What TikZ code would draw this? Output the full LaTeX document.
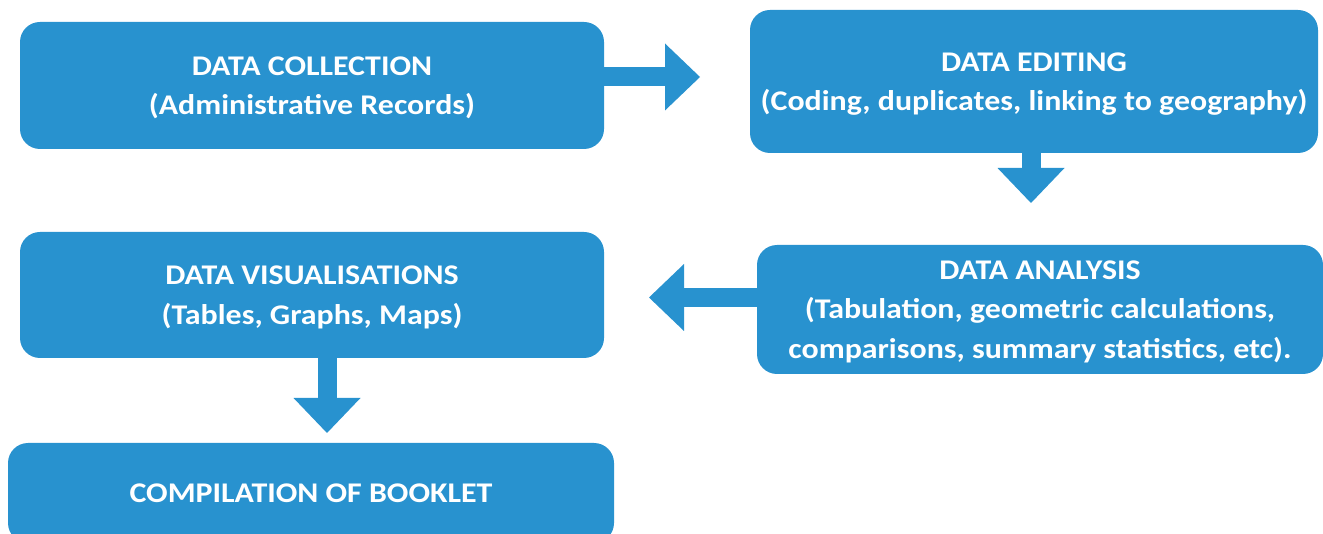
\documentclass[tikz,border=0pt]{standalone}
\usepackage{fontspec}
\setmainfont[FakeStretch=1.12]{Carlito}
\usetikzlibrary{arrows.meta}
\definecolor{flowblue}{RGB}{40,146,207}
\begin{document}
\begin{tikzpicture}[x=1pt,y=-1pt,
		stage/.style={fill=flowblue,rounded corners=20pt,text=white,align=center,
			font=\fontsize{28.5}{39.5}\selectfont\bfseries,inner sep=0pt,text depth=0pt},
		bigarrow/.style={flowblue,line width=19pt,
			-{Triangle[width=67pt,length=35pt,line width=0pt]}}]
		\useasboundingbox (0,0) rectangle (1323,534);
		\node [stage,minimum width=584pt,minimum height=127pt] (coll) at (312,85.5) {DATA COLLECTION\\(Administrative Records)};
		\node [stage,minimum width=568pt,minimum height=143pt] (edit) at (1034,81.5) {DATA EDITING\\(Coding, duplicates, linking to geography)};
		\node [stage,minimum width=566pt,minimum height=129pt] (anal) at (1040,309.5) {DATA ANALYSIS\\(Tabulation, geometric calculations,\\comparisons, summary statistics, etc).};
		\node [stage,minimum width=584pt,minimum height=126pt] (vis) at (312,295) {DATA VISUALISATIONS\\(Tables, Graphs, Maps)};
		\node [stage,minimum width=606pt,minimum height=100pt] (book) at (311,493) {COMPILATION OF BOOKLET};
		\coordinate (tip1) at (700,77);
		\coordinate (tip2) at (1031,203);
		\coordinate (tip3) at (649,297.5);
		\coordinate (tip4) at (327,433);
		\draw [bigarrow] ([yshift=8.5pt]coll.east) -- (tip1);
		\draw [bigarrow] ([xshift=-3pt]edit.south) -- (tip2);
		\draw [bigarrow] ([yshift=12pt]anal.west) -- (tip3);
		\draw [bigarrow] ([xshift=15pt]vis.south) -- (tip4);
\end{tikzpicture}
\end{document}
